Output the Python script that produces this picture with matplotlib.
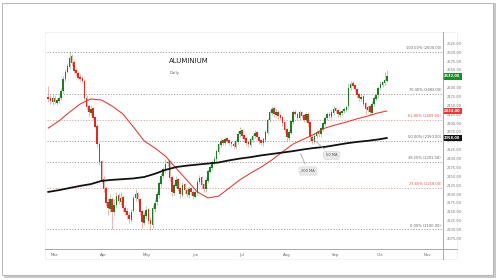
import matplotlib
matplotlib.use("Agg")
import matplotlib.pyplot as plt
from matplotlib.patches import Rectangle
from matplotlib.lines import Line2D
import numpy as np
import pandas as pd

# ---------------- data ----------------
start_date = "2023-02-24"
months = ["Mar", "Apr", "May", "Jun", "Jul", "Aug", "Sep", "Oct", "Nov"]

opens = [2475, 2470, 2460, 2472, 2458, 2463, 2470, 2490, 2523, 2545,
         2558, 2588, 2572, 2550, 2541, 2530, 2527, 2520, 2472, 2447,
         2428, 2442, 2417, 2392, 2342, 2292, 2243, 2217, 2178, 2158,
         2187, 2148, 2168, 2197, 2178, 2192, 2162, 2152, 2142, 2128,
         2152, 2188, 2202, 2187, 2152, 2118, 2138, 2157, 2127, 2113,
         2158, 2177, 2198, 2228, 2252, 2268, 2287, 2292, 2247, 2203,
         2223, 2242, 2217, 2198, 2227, 2212, 2198, 2217, 2207, 2193,
         2203, 2233, 2247, 2227, 2213, 2238, 2263, 2273, 2288, 2298,
         2318, 2338, 2352, 2343, 2357, 2352, 2347, 2342, 2333, 2348,
         2368, 2380, 2367, 2357, 2347, 2338, 2353, 2363, 2374, 2362,
         2352, 2343, 2353, 2373, 2408, 2428, 2442, 2423, 2432, 2422,
         2417, 2402, 2382, 2358, 2373, 2403, 2432, 2427, 2413, 2432,
         2422, 2408, 2427, 2402, 2362, 2348, 2363, 2377, 2368, 2383,
         2398, 2413, 2427, 2418, 2428, 2442, 2437, 2423, 2428, 2433,
         2438, 2447, 2498, 2512, 2507, 2497, 2482, 2468, 2477, 2457,
         2438, 2447, 2428, 2453, 2468, 2478, 2498, 2508, 2513, 2520]

closes = [2468, 2462, 2472, 2460, 2465, 2470, 2490, 2525, 2545, 2560,
          2585, 2570, 2548, 2540, 2528, 2525, 2518, 2470, 2445, 2430,
          2440, 2415, 2390, 2340, 2290, 2240, 2215, 2175, 2160, 2185,
          2150, 2170, 2195, 2180, 2190, 2160, 2150, 2140, 2130, 2150,
          2190, 2200, 2185, 2150, 2120, 2140, 2155, 2125, 2115, 2160,
          2175, 2200, 2230, 2250, 2270, 2285, 2290, 2245, 2205, 2225,
          2240, 2215, 2200, 2225, 2210, 2200, 2215, 2205, 2195, 2205,
          2235, 2245, 2225, 2215, 2240, 2265, 2275, 2290, 2300, 2320,
          2340, 2350, 2345, 2355, 2350, 2345, 2340, 2335, 2350, 2370,
          2378, 2365, 2355, 2345, 2340, 2355, 2365, 2372, 2360, 2350,
          2345, 2355, 2375, 2410, 2430, 2440, 2425, 2430, 2420, 2415,
          2400, 2380, 2360, 2375, 2405, 2430, 2425, 2415, 2430, 2420,
          2410, 2425, 2400, 2360, 2350, 2365, 2375, 2370, 2385, 2400,
          2415, 2425, 2420, 2430, 2440, 2435, 2425, 2430, 2435, 2440,
          2445, 2500, 2510, 2505, 2495, 2480, 2470, 2475, 2455, 2440,
          2445, 2430, 2455, 2470, 2480, 2500, 2510, 2515, 2522, 2532]

highs = [2505, 2478, 2480, 2478, 2472, 2476, 2498, 2532, 2552, 2570,
         2602, 2595, 2578, 2556, 2548, 2538, 2533, 2524, 2478, 2455,
         2452, 2446, 2420, 2398, 2348, 2296, 2250, 2222, 2190, 2200,
         2192, 2185, 2205, 2202, 2205, 2196, 2170, 2160, 2148, 2158,
         2198, 2215, 2206, 2190, 2156, 2150, 2165, 2160, 2135, 2168,
         2185, 2208, 2236, 2258, 2275, 2300, 2298, 2295, 2250, 2232,
         2250, 2245, 2220, 2235, 2230, 2216, 2222, 2220, 2210, 2212,
         2242, 2255, 2250, 2230, 2248, 2270, 2282, 2296, 2308, 2326,
         2345, 2358, 2356, 2362, 2360, 2356, 2350, 2346, 2356, 2378,
         2388, 2384, 2370, 2360, 2350, 2362, 2370, 2380, 2377, 2365,
         2356, 2362, 2380, 2415, 2436, 2448, 2445, 2440, 2436, 2426,
         2420, 2405, 2385, 2380, 2410, 2438, 2436, 2430, 2438, 2435,
         2425, 2432, 2430, 2405, 2366, 2372, 2380, 2380, 2390, 2406,
         2420, 2432, 2430, 2436, 2448, 2445, 2440, 2436, 2440, 2445,
         2450, 2512, 2520, 2518, 2510, 2500, 2486, 2482, 2480, 2460,
         2450, 2450, 2462, 2476, 2486, 2506, 2518, 2520, 2545, 2550]

lows = [2460, 2455, 2452, 2455, 2450, 2458, 2465, 2485, 2518, 2540,
        2552, 2562, 2542, 2533, 2522, 2518, 2512, 2465, 2438, 2420,
        2422, 2408, 2385, 2333, 2282, 2232, 2205, 2165, 2140, 2150,
        2100, 2140, 2162, 2172, 2170, 2150, 2140, 2130, 2118, 2122,
        2148, 2180, 2178, 2140, 2105, 2112, 2130, 2115, 2098, 2105,
        2150, 2170, 2190, 2220, 2245, 2260, 2280, 2238, 2195, 2196,
        2218, 2208, 2190, 2192, 2202, 2192, 2190, 2198, 2186, 2188,
        2198, 2228, 2218, 2205, 2206, 2232, 2258, 2268, 2282, 2292,
        2312, 2332, 2338, 2338, 2344, 2338, 2332, 2326, 2328, 2342,
        2362, 2358, 2348, 2338, 2332, 2332, 2348, 2358, 2354, 2342,
        2338, 2336, 2348, 2368, 2402, 2422, 2418, 2418, 2412, 2408,
        2392, 2372, 2350, 2352, 2368, 2398, 2420, 2408, 2408, 2414,
        2402, 2402, 2392, 2350, 2340, 2342, 2358, 2362, 2362, 2378,
        2392, 2408, 2414, 2412, 2422, 2428, 2418, 2418, 2422, 2428,
        2432, 2440, 2492, 2498, 2488, 2472, 2462, 2462, 2448, 2425,
        2432, 2422, 2424, 2448, 2462, 2472, 2492, 2502, 2508, 2515]

ma_idx = [0, 5, 10, 15, 20, 25, 30, 35, 40, 45, 50, 55, 60, 65, 70, 75,
          80, 85, 90, 95, 100, 105, 110, 115, 120, 125, 130, 135, 140,
          145, 150, 155, 159]
ma50 = [2386, 2406, 2431, 2454, 2468, 2465, 2448, 2426, 2389, 2350,
        2330, 2307, 2273, 2240, 2206, 2189, 2194, 2217, 2240, 2259,
        2276, 2296, 2319, 2341, 2355, 2369, 2386, 2395, 2403, 2412,
        2420, 2429, 2434]
ma200 = [2206, 2211, 2217, 2223, 2228, 2237, 2240, 2242, 2244, 2248,
         2257, 2268, 2276, 2280, 2283, 2286, 2289, 2295, 2300, 2304,
         2309, 2313, 2317, 2321, 2326, 2330, 2333, 2338, 2343, 2347,
         2350, 2354, 2358]

fib_low = 2100.0
fib_high = 2600.0
fib_ratios = [1.0, 0.764, 0.618, 0.5, 0.382, 0.236, 0.0]
fib_red = [0.618, 0.236]

# ---------------- figure ----------------
W, H = 500, 280
fig = plt.figure(figsize=(W / 100, H / 100), dpi=100)
fig.patch.set_facecolor("white")

def fx(px):
    return px / W

def fy(py):
    return 1 - py / H

# outer frame with shadow
fig.add_artist(Rectangle((fx(4), fy(278)), fx(492), 275 / H, transform=fig.transFigure,
                         facecolor="#c8c8c8", edgecolor="none", zorder=-3))
fig.add_artist(Rectangle((fx(2), fy(275)), fx(491), 272 / H, transform=fig.transFigure,
                         facecolor="white", edgecolor="#b0b0b0", lw=0.6, zorder=-2))
# faint inner chart box
fig.add_artist(Rectangle((fx(45), fy(259)), fx(412), 227 / H, transform=fig.transFigure,
                         facecolor="none", edgecolor="#ededed", lw=0.5, zorder=-1))

ax = fig.add_axes([fx(47), fy(249), fx(443 - 47), (249 - 38) / H])
ax.set_zorder(2)
ax.set_facecolor("none")
for s in ax.spines.values():
    s.set_visible(False)

n = len(closes)
idx = np.arange(n)
o = np.array(opens, float)
c = np.array(closes, float)
h = np.array(highs, float)
l = np.array(lows, float)
up = c >= o
green = "#1d7d22"
red = "#e5281e"
cols = np.where(up, green, red)

ax.vlines(idx, l, h, colors=cols, lw=0.45, alpha=0.55, zorder=3)
body_h = np.maximum(np.abs(c - o), 1.0)
ax.bar(idx, body_h, bottom=np.minimum(o, c), width=0.75, color=cols,
       edgecolor="none", zorder=4)

ax.plot(ma_idx, ma50, color="#e0392f", lw=0.75, zorder=5)
ax.plot(ma_idx, ma200, color="#111111", lw=1.3, zorder=5)

ax.set_ylim(2045, 2640)
ax.set_xlim(-0.6, 185.4)

# fibonacci lines
for r in fib_ratios:
    lvl = fib_low + r * (fib_high - fib_low)
    isred = any(abs(r - q) < 1e-9 for q in fib_red)
    lc = "#e58b85" if isred else "#8c8c8c"
    ax.axhline(lvl, color=lc, lw=0.6, ls=(0, (1.3, 2.0)), zorder=2)
    ax.text(0.995, lvl + 5, f"{r*100:.2f}% ({lvl:.2f})", transform=ax.get_yaxis_transform(),
            ha="right", va="bottom", fontsize=2.6, color="#d9534f" if isred else "#666666",
            zorder=6)

# y ticks on right
ticks = np.arange(2075, 2626, 25)
ax.yaxis.tick_right()
ax.set_yticks(ticks)
ax.set_yticklabels([f"{t:.2f}" for t in ticks])
ax.tick_params(axis="y", length=0, pad=3, labelsize=2.6, labelcolor="#777777")

# x ticks: month starts from business-day calendar
cal = pd.bdate_range(start_date, periods=190)
mpos, mlab = [], []
for m in months:
    sel = np.where(cal.strftime("%b") == m)[0]
    if len(sel):
        mpos.append(sel[0])
        mlab.append(m)
ax.set_xticks(mpos)
ax.set_xticklabels(mlab)
ax.tick_params(axis="x", length=0, pad=3, labelsize=2.8, labelcolor="#666666")

# axis lines
fig.add_artist(Line2D([fx(443), fx(443)], [fy(32), fy(259)], transform=fig.transFigure,
                      color="#9a9a9a", lw=0.6, zorder=7))
fig.add_artist(Line2D([fx(45), fx(457)], [fy(249), fy(249)], transform=fig.transFigure,
                      color="#9a9a9a", lw=0.6, zorder=7))

# price tags on the right axis
ytr = ax.get_yaxis_transform()
for val, bg in [(closes[-1], "#1e8a2b"), (ma50[-1], "#e53935"), (ma200[-1], "#111111")]:
    ax.text(1.003, val, f"{val:.2f}", transform=ytr, ha="left", va="center",
            fontsize=2.6, color="white", fontweight="bold", zorder=8, clip_on=False,
            bbox=dict(boxstyle="square,pad=0.35", fc=bg, ec="none"))

# MA annotations
ax.annotate("200 MA", xy=(118, 2322), xytext=(122, 2265), fontsize=2.6, color="#555555",
            ha="center", va="center", zorder=8,
            bbox=dict(boxstyle="round,pad=0.6", fc="#e9e9e9", ec="#d0d0d0", lw=0.3),
            arrowprops=dict(arrowstyle="-", color="#999999", lw=0.5))
ax.annotate("50 MA", xy=(123, 2362), xytext=(133, 2309), fontsize=2.6, color="#555555",
            ha="center", va="center", zorder=8,
            bbox=dict(boxstyle="round,pad=0.6", fc="#e9e9e9", ec="#d0d0d0", lw=0.3),
            arrowprops=dict(arrowstyle="-", color="#999999", lw=0.5))

# titles
fig.text(fx(169), fy(61), "ALUMINIUM", fontsize=5.0, color="#222222", ha="left", va="center")
fig.text(fx(170), fy(73), "Daily", fontsize=2.8, color="#555555", ha="left", va="center")

fig.savefig("out.png", dpi=100, facecolor="white")
